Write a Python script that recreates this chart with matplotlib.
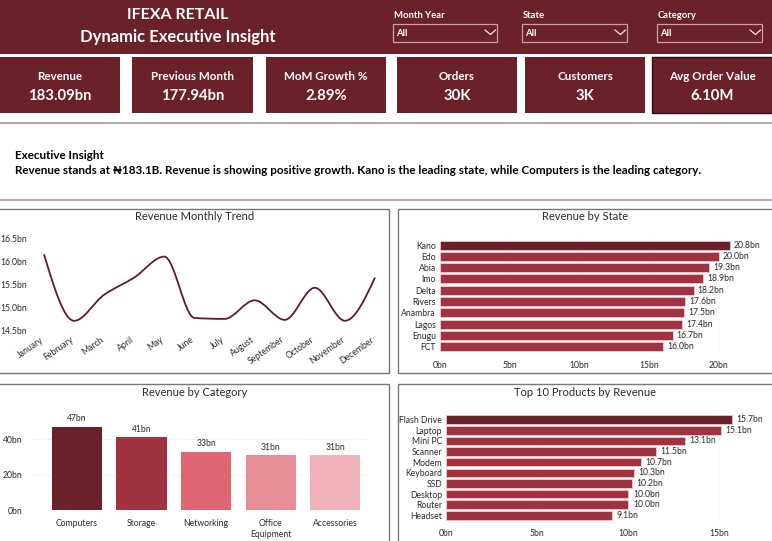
import numpy as np
import matplotlib
matplotlib.use("Agg")
import matplotlib.pyplot as plt
from matplotlib.patches import Rectangle, PathPatch
from matplotlib.path import Path
from matplotlib.transforms import ScaledTranslation

plt.rcParams['font.family'] = ['Lato', 'Open Sans', 'DejaVu Sans']

W = 772
H = 541

# data
months = ["January", "February", "March", "April", "May", "June", "July",
          "August", "September", "October", "November", "December"]
month_rev = [16.15, 14.72, 15.28, 15.65, 16.10, 14.78, 14.76, 15.16, 14.74, 15.43, 14.72, 15.65]

states = ["Kano", "Edo", "Abia", "Imo", "Delta", "Rivers", "Anambra", "Lagos", "Enugu", "FCT"]
state_rev = [20.8, 20.0, 19.3, 18.9, 18.2, 17.6, 17.5, 17.4, 16.7, 16.0]

categories = ["Computers", "Storage", "Networking", "Office\nEquipment", "Accessories"]
cat_rev = [47, 41, 33, 31, 31]

products = ["Flash Drive", "Laptop", "Mini PC", "Scanner", "Modem", "Keyboard", "SSD",
            "Desktop", "Router", "Headset"]
prod_rev = [15.7, 15.1, 13.1, 11.5, 10.7, 10.3, 10.2, 10.0, 10.0, 9.1]

kpi_names = ["Revenue", "Previous Month", "MoM Growth %", "Orders", "Customers", "Avg Order Value"]
kpi_values = ["183.09bn", "177.94bn", "2.89%", "30K", "3K", "6.10M"]

slicers = ["Month Year", "State", "Category"]

MAROON = "#6b2128"
RED = "#a1323f"
cat_colors = [MAROON, RED, "#de6673", "#e68e98", "#efb2b8"]
TXT = "#2b2b2b"
SMALL = 6.2

fig = plt.figure(figsize=(W / 100, H / 100), dpi=100, facecolor="white")


def box(x0, y0, x1, y1, **kw):
    # rectangle given in pixels from the top left
    r = Rectangle((x0 / W, 1 - y1 / H), (x1 - x0) / W, (y1 - y0) / H, transform=fig.transFigure, **kw)
    fig.add_artist(r)
    return r


def label(x, y, s, **kw):
    kw.setdefault("va", "center")
    kw.setdefault("ha", "center")
    return fig.text(x / W, 1 - y / H, s, **kw)


def axes_px(x0, y0, x1, y1):
    ax = fig.add_axes([x0 / W, 1 - y1 / H, (x1 - x0) / W, (y1 - y0) / H])
    ax.patch.set_alpha(0)
    ax.set_zorder(5)
    for s in ax.spines.values():
        s.set_visible(False)
    return ax


# header
box(0, 0, W, 54, fc=MAROON, ec="none")
label(178, 15, "IFEXA RETAIL", color="white", fontsize=11.5, fontweight="bold")
label(178, 37, "Dynamic Executive Insight", color="white", fontsize=12, fontweight="bold")

# slicers
slicer_x = [(393, 497), (522, 627), (657, 762)]
for name, (a, b) in zip(slicers, slicer_x):
    label(a + 1, 15, name, color="white", fontsize=6.8, ha="left", fontweight="bold")
    box(a, 24, b, 42, fc="none", ec="#c9a0a4", lw=0.9)
    label(a + 3, 34, "All", color="white", fontsize=6.8, ha="left", fontweight="bold")
    fig.add_artist(plt.Line2D([(b - 12) / W, (b - 6.5) / W, (b - 1.5) / W],
                              [1 - 30 / H, 1 - 34.5 / H, 1 - 30 / H],
                              color="white", lw=0.8))

# kpi cards
card_x = [(0, 120), (132, 253), (266, 386), (397, 517), (525, 645), (652, 772)]
for i, (a, b) in enumerate(card_x):
    if i == 5:
        box(a, 57, b + 2, 113, fc=MAROON, ec="#2a1215", lw=1)
    else:
        box(a, 57, b, 113, fc=MAROON, ec="none")
    label((a + b) / 2, 76, kpi_names[i], color="white", fontsize=8.4, fontweight="bold")
    label((a + b) / 2, 96, kpi_values[i], color="white", fontsize=10.7, fontweight="bold")

# insight block
box(0, 122.5, W, 123.5, fc="#b3abab", ec="none")
box(0, 199.5, W, 201, fc="#c4a9ac", ec="none")
label(15, 155, "Executive Insight", color="black", fontsize=8.4, ha="left", fontweight="bold")
label(15, 171, "Revenue stands at ₦183.1B. Revenue is showing positive growth. Kano is the leading state, "
      "while Computers is the leading category.", color="black", fontsize=8.42, ha="left", fontweight="bold")

# panels
box(-2, 209, 389, 373, fc="white", ec="#777777", lw=1)
box(398, 209, W + 2, 373, fc="white", ec="#777777", lw=1)
box(-2, 384, 389, H + 2, fc="white", ec="#777777", lw=1)
box(398, 384, W + 2, H + 2, fc="white", ec="#777777", lw=1)
label(195, 217, "Revenue Monthly Trend", color=TXT, fontsize=8)
label(585, 217, "Revenue by State", color=TXT, fontsize=8)
label(195, 392.5, "Revenue by Category", color=TXT, fontsize=8)
label(585, 392.5, "Top 10 Products by Revenue", color=TXT, fontsize=8)

# line chart, monotone bezier through the monthly values
ax = axes_px(44, 238, 375, 331)
xs = np.arange(len(months), dtype=float)
ys = np.array(month_rev)
sl = np.diff(ys)
tang = np.zeros(len(ys))
for i in range(1, len(ys) - 1):
    if sl[i - 1] * sl[i] > 0:
        tang[i] = 2 * sl[i - 1] * sl[i] / (sl[i - 1] + sl[i])
tang[0] = (3 * sl[0] - tang[1]) / 2
tang[-1] = (3 * sl[-1] - tang[-2]) / 2
verts = [(xs[0], ys[0])]
codes = [Path.MOVETO]
for i in range(len(ys) - 1):
    verts += [(xs[i] + 1 / 3, ys[i] + tang[i] / 3), (xs[i + 1] - 1 / 3, ys[i + 1] - tang[i + 1] / 3), (xs[i + 1], ys[i + 1])]
    codes += [Path.CURVE4] * 3
ax.add_patch(PathPatch(Path(verts, codes), fc="none", ec="#5e1d24", lw=1.3, clip_on=False))
ax.set_xlim(0, 11)
ax.set_ylim(14.5, 16.5)
ax.set_yticks([14.5, 15.0, 15.5, 16.0, 16.5])
ax.set_yticklabels(["%.1fbn" % v for v in [14.5, 15.0, 15.5, 16.0, 16.5]])
ax.set_xticks(xs)
ax.set_xticklabels(months, rotation=35, ha="right", rotation_mode="anchor")
ax.tick_params(axis="x", length=0, pad=3, labelsize=SMALL, labelcolor=TXT)
ax.tick_params(axis="y", length=0, pad=12, labelsize=SMALL, labelcolor=TXT)
shift = ScaledTranslation(-4 / 100, 0, fig.dpi_scale_trans)
for t in ax.get_xticklabels():
    t.set_transform(t.get_transform() + shift)


def hbars(box_px, names, vals, xmax, ticks, pad):
    ax = axes_px(*box_px)
    y = np.arange(len(names))
    colors = [MAROON] + [RED] * (len(names) - 1)
    ax.barh(y, vals, height=0.8, color=colors, edgecolor="#f3d5d8", linewidth=0.5)
    for yy, v in zip(y, vals):
        ax.text(v + pad, yy, "%.1fbn" % v, va="center", ha="left", fontsize=SMALL, color=TXT)
    ax.set_ylim(len(names) - 0.5, -0.5)
    ax.set_xlim(0, xmax)
    ax.set_yticks(y)
    ax.set_yticklabels(names)
    ax.set_xticks(ticks)
    ax.set_xticklabels(["%dbn" % t for t in ticks])
    ax.tick_params(axis="y", length=0, pad=3, labelsize=SMALL, labelcolor=TXT)
    ax.tick_params(axis="x", length=0, pad=6, labelsize=SMALL, labelcolor=TXT)
    ax.grid(axis="x", color="#eeeeee", ls=":", lw=0.6)
    ax.set_axisbelow(True)
    return ax


hbars((440, 239.4, 440 + 13.93 * 23, 352.4), states, state_rev, 23, [0, 5, 10, 15, 20], 0.3)
hbars((446.3, 414.4, 446.3 + 18.2 * 17, 520.6), products, prod_rev, 17, [0, 5, 10, 15], 0.25)

# category columns
ax = axes_px(32, 415, 366, 510.3)
ax.bar(range(len(categories)), cat_rev, width=0.776, color=cat_colors)
for i, v in enumerate(cat_rev):
    ax.text(i, v + 2, "%dbn" % v, ha="center", va="bottom", fontsize=SMALL, color=TXT)
ax.set_xlim(-0.38 - 20.3 / 64.4, 4.38 + 6 / 64.4)
ax.set_ylim(0, (510.3 - 415) / 1.78)
ax.set_yticks([0, 20, 40])
ax.set_yticklabels(["0bn", "20bn", "40bn"])
ax.set_xticks(range(len(categories)))
ax.set_xticklabels(categories, linespacing=1.3)
ax.tick_params(axis="x", length=0, pad=6, labelsize=SMALL, labelcolor=TXT)
ax.tick_params(axis="y", length=0, pad=7, labelsize=SMALL, labelcolor=TXT)
ax.grid(axis="y", color="#dddddd", ls=":", lw=0.7)
ax.set_axisbelow(True)

fig.savefig("out.png", dpi=100)
